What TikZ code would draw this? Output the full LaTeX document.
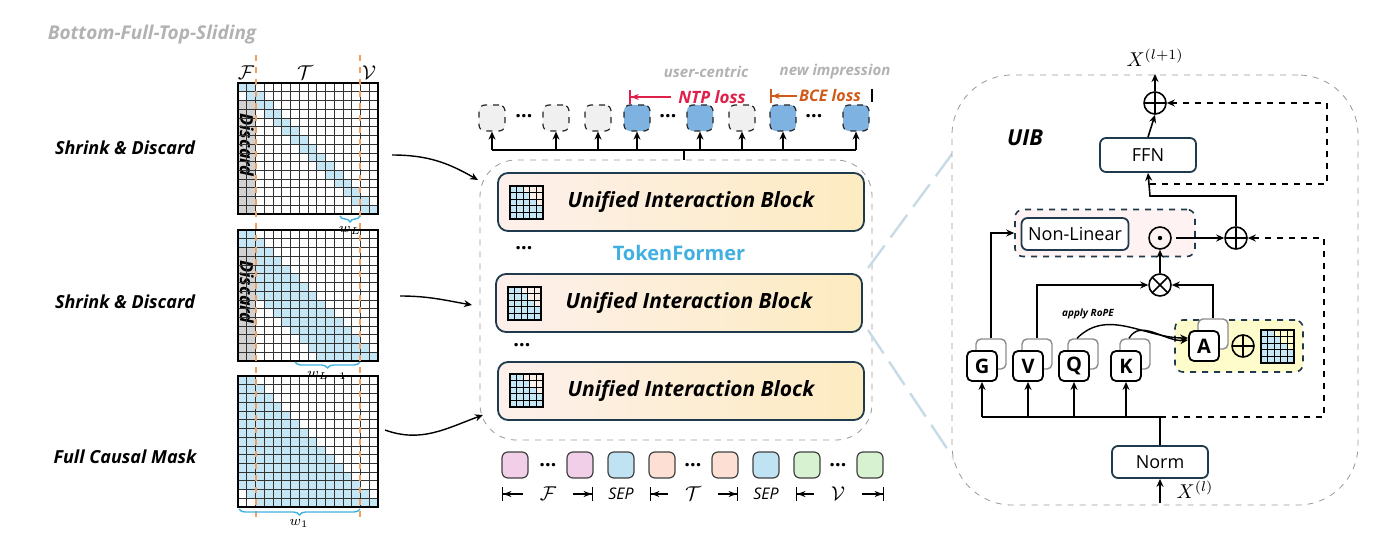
\documentclass[tikz,border=0pt]{standalone}
\usepackage{fontspec}
\setmainfont{Open Sans}
\usetikzlibrary{arrows.meta,decorations.pathreplacing,positioning,calc}

\definecolor{navy}{HTML}{1F3A4D}
\definecolor{cellblue}{HTML}{C4E6F5}
\definecolor{tokblue}{HTML}{7EB2E0}
\definecolor{tokgray}{HTML}{F0F0F0}
\definecolor{tfblue}{HTML}{41B0E0}
\definecolor{ntpred}{HTML}{E0204A}
\definecolor{bceorange}{HTML}{D05A1A}
\definecolor{winorange}{HTML}{F0A060}
\definecolor{tkpink}{HTML}{F2CFE9}
\definecolor{tkblue}{HTML}{BFE3F2}
\definecolor{tkpeach}{HTML}{FDE0D3}
\definecolor{tkgreen}{HTML}{D7F2D0}
\definecolor{blkleft}{HTML}{FDF0EC}
\definecolor{blkright}{HTML}{FDEBC0}

% attention mask: x0, y0, window, discard
\newcommand{\attnmat}[4]{%
  \begin{scope}[shift={(#1,#2)}]
    \foreach \r in {0,...,14}{
      \pgfmathtruncatemacro\lo{max(0,\r+1-#3)}
      \pgfmathtruncatemacro\hi{min(16,\r+2)}
      \fill[cellblue] (\lo*8.75,\r*8.73) rectangle (\hi*8.75,\r*8.73+8.73);}
    \ifnum#4=1 \fill[gray!35] (0,2*8.73) rectangle (2*8.75,131);
      \node[rotate=-90,font=\bfseries\itshape\small] at (8.75,62) {Discard};\fi
    \foreach \c in {1,...,15} \draw[black!80,line width=.3pt] (\c*8.75,0) -- (\c*8.75,131);
    \foreach \r in {1,...,14} \draw[black!80,line width=.3pt] (0,\r*8.73) -- (140,\r*8.73);
    \draw[line width=.9pt] (0,0) rectangle (140,131);
  \end{scope}}

% small grid icon
\newcommand{\gridicon}[2]{%
  \begin{scope}[shift={(#1,#2)}]
    \foreach \r in {0,...,4}
      \foreach \c in {0,...,4}{
        \pgfmathtruncatemacro\on{\c<=\r+1 ? 1 : 0}
        \ifnum\on=1 \fill[cellblue] (\c*6.6,\r*6.6) rectangle ++(6.6,6.6);\fi}
    \foreach \k in {0,...,5}{
      \draw[line width=.5pt] (\k*6.6,0) -- (\k*6.6,33);
      \draw[line width=.5pt] (0,\k*6.6) -- (33,\k*6.6);}
    \draw[line width=.9pt] (0,0) rectangle (33,33);
  \end{scope}}

\begin{document}
\begin{tikzpicture}[x=0.5pt,y=-0.5pt,
    >={Stealth[length=4pt,width=3.5pt]},
    side/.style={font=\bfseries\itshape\fontsize{9}{10}\selectfont},
    uib/.style={draw=navy,line width=.9pt,rounded corners=5pt,minimum width=183pt,
      minimum height=29pt,left color=blkleft,right color=blkright},
    otok/.style={draw=black!85,dashed,line width=.6pt,rounded corners=3pt,minimum size=13pt,inner sep=0},
    itok/.style={draw=black!75,line width=.6pt,rounded corners=3pt,minimum size=13pt,inner sep=0},
    blk/.style={draw=navy,line width=.9pt,rounded corners=3pt,fill=white,font=\fontsize{9}{10}\selectfont},
    let/.style={draw=black,line width=.9pt,rounded corners=2.5pt,fill=white,minimum size=15pt,
      inner sep=0,font=\bfseries\fontsize{10}{10}\selectfont},
    back/.style={draw=black!45,line width=.7pt,rounded corners=2.5pt,fill=white,minimum size=15pt},
    op/.style={circle,draw,line width=.8pt,minimum size=11pt,inner sep=0},
    plus/.style={op,path picture={\draw[line width=.8pt] (path picture bounding box.north) -- (path picture bounding box.south)
      (path picture bounding box.west) -- (path picture bounding box.east);}},
    times/.style={op,path picture={\draw[line width=.8pt,shift={(path picture bounding box.center)}]
      (-4pt,-4pt) -- (4pt,4pt) (-4pt,4pt) -- (4pt,-4pt);}},
    odot/.style={op,path picture={\fill (path picture bounding box.center) circle (1.1pt);}},
    brc/.style={decorate,decoration={brace,mirror,amplitude=3pt},draw=tfblue,line width=.7pt},
    wlab/.style={font=\scriptsize,inner sep=1pt}]
\useasboundingbox (0,0) rectangle (1374,551);

% ---------- left: masks ----------
\node[font=\bfseries\itshape\fontsize{9.5}{10}\selectfont,text=black!30] (title) at (152,35) {Bottom-Full-Top-Sliding};
\node[side] (s1) at (125,148) {Shrink \& Discard};
\node[side] (s2) at (125,302) {Shrink \& Discard};
\node[side] (s3) at (125,457) {Full Causal Mask};

\attnmat{238}{83}{1}{1}
\attnmat{238}{230}{6}{1}
\attnmat{238}{376}{13}{0}

\node (lF) at (246,73) {$\mathcal{F}$};
\node (lT) at (305,73) {$\mathcal{T}$};
\node (lV) at (369,73) {$\mathcal{V}$};
\draw[winorange,dashed,line width=1pt] (256,55) -- (256,520);
\draw[winorange,dashed,line width=1pt] (360,55) -- (360,520);

\draw[brc] (340,216) -- (360,216);
\draw[brc] (295,362) -- (360,362);
\draw[brc] (239,509) -- (360,509);
\node[wlab] (wL) at (350,230) {$w_L$};
\node[wlab] (wL1) at (327,376) {$w_{L-1}$};
\node[wlab] (w1) at (299,523) {$w_1$};

% ---------- middle: TokenFormer ----------
\node[draw=black!40,dashed,rounded corners=18pt,minimum width=196pt,minimum height=140pt] (tf) at (676,300) {};
\node[uib] (b1) at (681,202) {};
\node[uib] (b2) at (679,303) {};
\node[uib] (b3) at (681,391) {};
\foreach \b in {b1,b2,b3}
  \node[font=\bfseries\itshape\fontsize{10.5}{12}\selectfont] at ([xshift=5pt]\b.center) {Unified Interaction Block};
\gridicon{510}{186}
\gridicon{508}{287}
\gridicon{510}{374}
\node (d1) at (524,248) {\textbf{\dots}};
\node (d2) at (522,345) {\textbf{\dots}};
\node[font=\bfseries\fontsize{10}{12}\selectfont,text=tfblue] (tfname) at (679,253) {TokenFormer};

% output tokens
\foreach \x/\c [count=\i] in {492/tokgray,556/tokgray,598/tokgray,637/tokblue,700/tokblue,742/tokgray,783/tokblue,856/tokblue}
  \node[otok,fill=\c] (o\i) at (\x,118) {};
\foreach \x in {524,668,814} \node at (\x,116) {\textbf{\dots}};
\coordinate (bar) at (684,150);
\draw[line width=.8pt] (o1 |- bar) -- (o8 |- bar);
\draw[line width=.8pt] (bar) -- (bar |- tf.north);
\foreach \i in {1,...,8} \draw[->,line width=.8pt] (o\i |- bar) -- (o\i.south);

\node[font=\bfseries\itshape\fontsize{7.5}{9}\selectfont,text=black!30] (uc) at (706,72) {user-centric};
\node[font=\bfseries\itshape\fontsize{7.5}{9}\selectfont,text=black!30] (ni) at (835,72) {new impression};
\node[font=\bfseries\itshape\fontsize{8.5}{9}\selectfont,text=ntpred] (ntp) at (712,97) {NTP loss};
\node[font=\bfseries\itshape\fontsize{8}{9}\selectfont,text=bceorange,inner sep=1pt] (bce) at (830,96) {BCE loss};
\draw[ntpred,line width=.9pt,-{Stealth[length=4pt]Bar[width=7pt]}] (ntp.west) -- (629,97);
\draw[bceorange,line width=.9pt,-{Stealth[length=4pt]Bar[width=7pt]}] (bce.west) -- (770,96);
\draw[line width=.9pt] (872,89) -- (872,102);

% input tokens
\foreach \x/\c [count=\i] in {515/tkpink,580/tkpink,621/tkblue,662/tkpeach,725/tkpeach,766/tkblue,807/tkgreen,870/tkgreen}
  \node[itok,fill=\c] (t\i) at (\x,465) {};
\foreach \x in {548,693,838} \node at (\x,465) {\textbf{\dots}};
\node (gF) at (548,494) {$\mathcal{F}$};
\node (gT) at (693,494) {$\mathcal{T}$};
\node (gV) at (838,494) {$\mathcal{V}$};
\node[font=\footnotesize] (sep1) at (621,494) {$\mathit{SEP}$};
\node[font=\footnotesize] (sep2) at (766,494) {$\mathit{SEP}$};
\foreach \g/\l/\r in {gF/502/593,gT/650/738,gV/796/884}{
  \draw[line width=.7pt,-{Stealth[length=4pt]Bar[width=7pt]}] ([xshift=-5pt]\g.west) -- (\l,494);
  \draw[line width=.7pt,-{Stealth[length=4pt]Bar[width=7pt]}] ([xshift=5pt]\g.east) -- (\r,494);}

% mask -> block arrows
\coordinate (m1) at (392,155);
\coordinate (m2) at (400,296);
\coordinate (m3) at (385,430);
\draw[->,line width=.7pt] (m1) to[out=0,in=150] (478,180);
\draw[->,line width=.7pt] (m2) to[out=0,in=170] (472,305);
\draw[->,line width=.7pt] (m3) to[out=-20,in=200] (483,415);

% zoom lines
\draw[cellblue!80!navy!60,dash pattern=on 14pt off 5pt,line width=1.2pt] (868,268) -- (955,150);
\draw[cellblue!80!navy!60,dash pattern=on 14pt off 5pt,line width=1.2pt] (868,330) -- (960,468);

% ---------- right: UIB ----------
\node[draw=black!40,dashed,rounded corners=30pt,minimum width=203pt,minimum height=215pt,fill=white] (uibbox) at (1155,290) {};
\node[font=\bfseries\itshape\fontsize{11}{12}\selectfont] (uibl) at (1025,138) {UIB};

\node[draw=navy,dashed,line width=.8pt,rounded corners=4pt,fill=red!5,minimum width=90pt,minimum height=23.5pt] (nlbox) at (1105,233) {};
\node[draw=navy,dashed,line width=.8pt,rounded corners=4pt,fill=yellow!20,minimum width=64pt,minimum height=26pt] (ybox) at (1239,346) {};

\node[blk,minimum width=48pt,minimum height=17pt] (ffn) at (1148,155) {FFN};
\node[blk,minimum width=48pt,minimum height=16pt] (norm) at (1160,462) {Norm};
\node[blk,minimum width=52pt,minimum height=16pt] (nl) at (1075,234) {Non-Linear};
\node[plus] (p1) at (1155,103) {};
\node[plus] (p2) at (1236,238) {};
\node[odot] (dt) at (1160,238) {};
\node[times] (ot) at (1160,285) {};
\node[plus] (p3) at (1243,346) {};
\gridicon{1261}{330}

\foreach \n/\x/\y in {G/982/366,V/1028/366,Q/1074/366,K/1126/366,A/1204/346}{
  \node[back] (\n b) at (\x+9,\y-12) {};
  \node[let] (\n) at (\x,\y) {\n};}

\node (xout) at (1155,58) {$X^{(l+1)}$};
\node (xin) at (1195,490) {$X^{(l)}$};
\coordinate (in) at (1160,503);
\coordinate (bus) at (1160,417);
\coordinate (res) at (1150,184);
\coordinate (ffnin) at (1150,196);

\draw[->,line width=.8pt] (in) -- (norm.south);
\draw[line width=.8pt] (norm.north) -- (bus) -- (G |- bus);
\foreach \n in {G,V,Q,K} \draw[->,line width=.8pt] (\n |- bus) -- (\n.south);
\draw[->,line width=.8pt,dashed] (bus) -- ++(164,0) |- (p2.east);
\draw[->,line width=.8pt] (Gb.north) |- (nlbox.west);
\draw[->,line width=.8pt] (Vb.north) |- (ot.west);
\draw[->,line width=.8pt] (Ab.north) |- (ot.east);
\draw[->,line width=.8pt] (ot) -- (dt);
\draw[->,line width=.8pt] (dt.east) ++(2pt,0) -- (p2.west);
\draw[->,line width=.8pt] (p2.north) |- (ffnin) -- (ffn.south);
\draw[->,line width=.8pt,dashed] (res) -- ++(177,0) |- (p1.east);
\draw[->,line width=.8pt] (ffn.north) -- (p1.south);
\draw[->,line width=.8pt] (p1.north) -- (xout.south);

\node[font=\bfseries\itshape\fontsize{5}{6}\selectfont] (rope) at (1088,314) {apply RoPE};
\draw[->,line width=.7pt] ([xshift=-3pt]Qb.north) to[out=45,in=180] ([yshift=4pt]A.west);
\draw[->,line width=.7pt] ([xshift=-3pt]Kb.north) to[out=60,in=185] ([yshift=3pt]A.west);
\end{tikzpicture}
\end{document}
